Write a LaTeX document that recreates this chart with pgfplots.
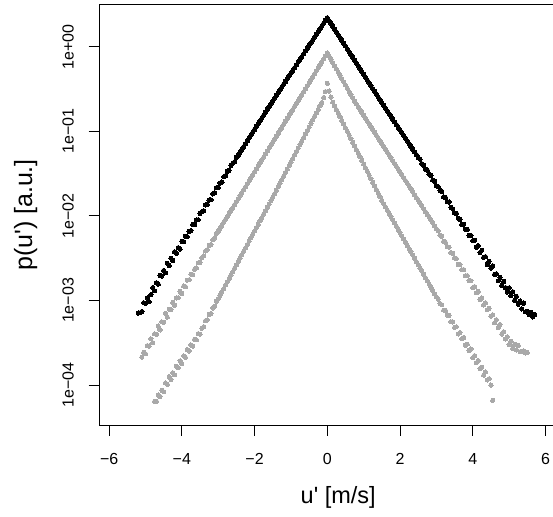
\documentclass[border=0pt]{standalone}
\usepackage{fontspec}
\setmainfont{Liberation Sans}
\usepackage{pgfplots}
\pgfplotsset{compat=1.18}
\definecolor{dgray}{HTML}{A9A9A9}

\begin{document}
\begin{tikzpicture}[x=1pt,y=1pt]
\begin{axis}[
  at={(99.54pt,91pt)}, anchor=south west,
  scale only axis, width=455.5pt, height=420pt,
  xmin=-6.264, xmax=6.264,
  ymode=log, ymin=3.373e-5, ymax=3.112,
  axis line style={line width=1pt},
  tick align=outside, major tick length=11pt,
  tick style={line width=1pt, black},
  tick pos=left,
  xtick={-6,-4,-2,0,2,4,6},
  xticklabels={−6,−4,−2,0,2,4,6},
  ytick={1e-4,1e-3,1e-2,1e-1,1},
  yticklabels={1e−04,1e−03,1e−02,1e−01,1e+00},
  minor tick num=0, yminorticks=false,
  tick label style={font=\fontsize{16}{19}\selectfont},
  xticklabel style={anchor=base},
  xticklabel shift=28.5pt,
  yticklabel style={rotate=90, anchor=base},
  yticklabel shift=15pt,
  xlabel={u\textquotesingle{} [m/s]},
  ylabel={p(u\textquotesingle) [a.u.]},
  every axis x label/.style={at={(axis description cs:0.524,-0.188)}, anchor=base,
    font=\fontsize{23.5}{27}\selectfont},
  every axis y label/.style={at={(axis description cs:-0.148,0.5)}, rotate=90, anchor=base,
    font=\fontsize{25}{29}\selectfont},
]
% signal at the reference probe
\addplot[only marks, mark=*, mark size=2.15pt, color=black, mark options={line width=0pt}] coordinates {
(-5.20,7.10e-4) (-5.15,7.16e-4) (-5.10,7.40e-4) (-5.05,9.40e-4) (-5.00,9.25e-4) (-4.95,1.07e-3) (-4.90,9.64e-4) (-4.85,1.17e-3) (-4.80,1.42e-3) (-4.75,1.30e-3) (-4.70,1.62e-3) (-4.65,1.56e-3) (-4.60,1.98e-3) (-4.55,1.95e-3) (-4.50,2.26e-3) (-4.45,2.13e-3) (-4.40,2.76e-3) (-4.35,2.60e-3) (-4.30,3.16e-3) (-4.25,2.97e-3) (-4.20,3.77e-3) (-4.15,3.63e-3) (-4.10,4.21e-3) (-4.05,4.06e-3) (-4.00,5.02e-3) (-3.95,4.95e-3) (-3.90,5.74e-3) (-3.85,5.66e-3) (-3.80,6.55e-3) (-3.75,6.68e-3) (-3.70,7.93e-3) (-3.65,7.91e-3) (-3.60,8.93e-3) (-3.55,9.02e-3) (-3.50,1.07e-2) (-3.45,1.12e-2) (-3.40,1.15e-2) (-3.35,1.35e-2) (-3.30,1.36e-2) (-3.25,1.54e-2) (-3.20,1.55e-2) (-3.15,1.82e-2) (-3.10,1.88e-2) (-3.05,2.15e-2) (-3.00,2.17e-2) (-2.95,2.45e-2) (-2.90,2.51e-2) (-2.85,2.90e-2) (-2.80,2.99e-2) (-2.75,3.35e-2) (-2.70,3.46e-2) (-2.65,3.96e-2) (-2.60,4.18e-2) (-2.55,4.37e-2) (-2.50,4.94e-2) (-2.45,5.22e-2) (-2.40,5.64e-2) (-2.35,6.10e-2) (-2.30,6.59e-2) (-2.25,7.13e-2) (-2.20,7.69e-2) (-2.15,8.32e-2) (-2.10,8.99e-2) (-2.05,9.73e-2) (-2.00,1.05e-1) (-1.95,1.14e-1) (-1.90,1.23e-1) (-1.85,1.33e-1) (-1.80,1.43e-1) (-1.75,1.55e-1) (-1.70,1.67e-1) (-1.65,1.81e-1) (-1.60,1.95e-1) (-1.55,2.11e-1) (-1.50,2.29e-1) (-1.45,2.47e-1) (-1.40,2.66e-1) (-1.35,2.87e-1) (-1.30,3.09e-1) (-1.25,3.33e-1) (-1.20,3.60e-1) (-1.15,3.88e-1) (-1.10,4.18e-1) (-1.05,4.51e-1) (-1.00,4.86e-1) (-0.95,5.25e-1) (-0.90,5.65e-1) (-0.85,6.10e-1) (-0.80,6.58e-1) (-0.75,7.10e-1) (-0.70,7.64e-1) (-0.65,8.24e-1) (-0.60,8.89e-1) (-0.55,9.59e-1) (-0.50,1.04) (-0.45,1.11) (-0.40,1.20) (-0.35,1.30) (-0.30,1.40) (-0.25,1.51) (-0.20,1.63) (-0.15,1.75) (-0.10,1.89) (-0.05,2.04) (0.00,2.20)
(0.05,2.03) (0.10,1.88) (0.15,1.74) (0.20,1.61) (0.25,1.49) (0.30,1.38) (0.35,1.28) (0.40,1.19) (0.45,1.10) (0.50,1.02) (0.55,9.41e-1) (0.60,8.71e-1) (0.65,8.06e-1) (0.70,7.46e-1) (0.75,6.91e-1) (0.80,6.40e-1) (0.85,5.92e-1) (0.90,5.48e-1) (0.95,5.08e-1) (1.00,4.70e-1) (1.05,4.35e-1) (1.10,4.03e-1) (1.15,3.73e-1) (1.20,3.45e-1) (1.25,3.19e-1) (1.30,2.96e-1) (1.35,2.74e-1) (1.40,2.54e-1) (1.45,2.35e-1) (1.50,2.17e-1) (1.55,2.02e-1) (1.60,1.87e-1) (1.65,1.74e-1) (1.70,1.61e-1) (1.75,1.50e-1) (1.80,1.39e-1) (1.85,1.29e-1) (1.90,1.20e-1) (1.95,1.11e-1) (2.00,1.03e-1) (2.05,9.60e-2) (2.10,8.91e-2) (2.15,8.27e-2) (2.20,7.68e-2) (2.25,7.13e-2) (2.30,6.62e-2) (2.35,6.15e-2) (2.40,5.71e-2) (2.45,5.30e-2) (2.50,4.92e-2) (2.55,4.68e-2) (2.60,4.14e-2) (2.65,3.98e-2) (2.70,3.56e-2) (2.75,3.48e-2) (2.80,3.12e-2) (2.85,3.01e-2) (2.90,2.65e-2) (2.95,2.55e-2) (3.00,2.26e-2) (3.05,2.22e-2) (3.10,2.00e-2) (3.15,1.94e-2) (3.20,1.68e-2) (3.25,1.65e-2) (3.30,1.47e-2) (3.35,1.46e-2) (3.40,1.26e-2) (3.45,1.21e-2) (3.50,1.08e-2) (3.55,1.07e-2) (3.60,9.39e-3) (3.65,9.12e-3) (3.70,7.91e-3) (3.75,7.96e-3) (3.80,6.97e-3) (3.85,6.93e-3) (3.90,5.87e-3) (3.95,5.85e-3) (4.00,5.07e-3) (4.05,5.15e-3) (4.10,4.27e-3) (4.15,4.45e-3) (4.20,3.68e-3) (4.25,3.92e-3) (4.30,3.24e-3) (4.35,3.30e-3) (4.40,2.67e-3) (4.45,2.91e-3) (4.50,2.41e-3) (4.55,2.57e-3) (4.60,2.03e-3) (4.65,2.07e-3) (4.70,1.71e-3) (4.75,1.87e-3) (4.80,1.51e-3) (4.85,1.68e-3) (4.90,1.42e-3) (4.95,1.26e-3) (5.00,1.41e-3) (5.05,1.14e-3) (5.10,1.27e-3) (5.15,1.00e-3) (5.20,1.12e-3) (5.25,9.04e-4) (5.30,9.85e-4) (5.35,7.96e-4) (5.40,9.30e-4) (5.45,7.35e-4) (5.50,7.48e-4) (5.55,6.78e-4) (5.60,7.22e-4) (5.65,6.40e-4) (5.70,6.82e-4)
};
% second probe
\addplot[only marks, mark=*, mark size=2.1pt, color=dgray, mark options={line width=0pt}] coordinates {
(-5.10,2.14e-4) (-5.05,2.43e-4) (-5.00,2.35e-4) (-4.95,2.93e-4) (-4.90,2.89e-4) (-4.85,3.52e-4) (-4.80,3.17e-4) (-4.75,4.04e-4) (-4.70,4.00e-4) (-4.65,4.98e-4) (-4.60,4.49e-4) (-4.55,5.59e-4) (-4.50,5.53e-4) (-4.45,7.04e-4) (-4.40,6.35e-4) (-4.35,7.91e-4) (-4.30,7.82e-4) (-4.25,9.51e-4) (-4.20,8.78e-4) (-4.15,1.07e-3) (-4.10,1.08e-3) (-4.05,1.28e-3) (-4.00,1.21e-3) (-3.95,1.48e-3) (-3.90,1.46e-3) (-3.85,1.74e-3) (-3.80,1.76e-3) (-3.75,2.04e-3) (-3.70,2.02e-3) (-3.65,2.34e-3) (-3.60,2.43e-3) (-3.55,2.79e-3) (-3.50,2.82e-3) (-3.45,3.21e-3) (-3.40,3.36e-3) (-3.35,3.85e-3) (-3.30,3.99e-3) (-3.25,4.48e-3) (-3.20,4.59e-3) (-3.15,5.21e-3) (-3.10,5.46e-3) (-3.05,6.19e-3) (-3.00,6.56e-3) (-2.95,7.11e-3) (-2.90,7.72e-3) (-2.85,8.37e-3) (-2.80,9.07e-3) (-2.75,9.83e-3) (-2.70,1.07e-2) (-2.65,1.16e-2) (-2.60,1.25e-2) (-2.55,1.36e-2) (-2.50,1.47e-2) (-2.45,1.60e-2) (-2.40,1.73e-2) (-2.35,1.88e-2) (-2.30,2.04e-2) (-2.25,2.21e-2) (-2.20,2.40e-2) (-2.15,2.60e-2) (-2.10,2.82e-2) (-2.05,3.05e-2) (-2.00,3.31e-2) (-1.95,3.59e-2) (-1.90,3.89e-2) (-1.85,4.22e-2) (-1.80,4.58e-2) (-1.75,4.96e-2) (-1.70,5.38e-2) (-1.65,5.83e-2) (-1.60,6.33e-2) (-1.55,6.86e-2) (-1.50,7.44e-2) (-1.45,8.07e-2) (-1.40,8.75e-2) (-1.35,9.48e-2) (-1.30,1.03e-1) (-1.25,1.11e-1) (-1.20,1.21e-1) (-1.15,1.31e-1) (-1.10,1.42e-1) (-1.05,1.54e-1) (-1.00,1.67e-1) (-0.95,1.81e-1) (-0.90,1.97e-1) (-0.85,2.13e-1) (-0.80,2.31e-1) (-0.75,2.50e-1) (-0.70,2.72e-1) (-0.65,2.94e-1) (-0.60,3.19e-1) (-0.55,3.46e-1) (-0.50,3.75e-1) (-0.45,4.07e-1) (-0.40,4.41e-1) (-0.35,4.79e-1) (-0.30,5.19e-1) (-0.25,5.63e-1) (-0.20,6.10e-1) (-0.15,6.61e-1) (-0.10,7.17e-1) (-0.05,7.78e-1) (0.00,8.43e-1)
(0.05,7.73e-1) (0.10,7.08e-1) (0.15,6.49e-1) (0.20,5.94e-1) (0.25,5.45e-1) (0.30,4.99e-1) (0.35,4.57e-1) (0.40,4.19e-1) (0.45,3.84e-1) (0.50,3.52e-1) (0.55,3.22e-1) (0.60,2.95e-1) (0.65,2.70e-1) (0.70,2.48e-1) (0.75,2.27e-1) (0.80,2.10e-1) (0.85,1.95e-1) (0.90,1.80e-1) (0.95,1.67e-1) (1.00,1.54e-1) (1.05,1.43e-1) (1.10,1.32e-1) (1.15,1.22e-1) (1.20,1.13e-1) (1.25,1.05e-1) (1.30,9.72e-2) (1.35,8.99e-2) (1.40,8.33e-2) (1.45,7.71e-2) (1.50,7.14e-2) (1.55,6.61e-2) (1.60,6.12e-2) (1.65,5.66e-2) (1.70,5.24e-2) (1.75,4.85e-2) (1.80,4.49e-2) (1.85,4.16e-2) (1.90,3.85e-2) (1.95,3.56e-2) (2.00,3.30e-2) (2.05,3.05e-2) (2.10,2.83e-2) (2.15,2.62e-2) (2.20,2.42e-2) (2.25,2.24e-2) (2.30,2.08e-2) (2.35,1.92e-2) (2.40,1.78e-2) (2.45,1.65e-2) (2.50,1.53e-2) (2.55,1.41e-2) (2.60,1.31e-2) (2.65,1.21e-2) (2.70,1.12e-2) (2.75,1.04e-2) (2.80,9.61e-3) (2.85,8.89e-3) (2.90,8.23e-3) (2.95,7.62e-3) (3.00,7.06e-3) (3.05,6.68e-3) (3.10,5.91e-3) (3.15,5.73e-3) (3.20,5.01e-3) (3.25,4.85e-3) (3.30,4.34e-3) (3.35,4.26e-3) (3.40,3.68e-3) (3.45,3.61e-3) (3.50,3.19e-3) (3.55,3.13e-3) (3.60,2.67e-3) (3.65,2.65e-3) (3.70,2.31e-3) (3.75,2.32e-3) (3.80,1.96e-3) (3.85,1.97e-3) (3.90,1.72e-3) (3.95,1.71e-3) (4.00,1.41e-3) (4.05,1.46e-3) (4.10,1.23e-3) (4.15,1.28e-3) (4.20,1.03e-3) (4.25,1.07e-3) (4.30,8.86e-4) (4.35,9.42e-4) (4.40,7.77e-4) (4.45,8.07e-4) (4.50,6.51e-4) (4.55,6.76e-4) (4.60,5.45e-4) (4.65,5.93e-4) (4.70,4.78e-4) (4.75,5.20e-4) (4.80,4.00e-4) (4.85,4.26e-4) (4.90,3.51e-4) (4.95,3.73e-4) (5.00,3.01e-4) (5.05,3.31e-4) (5.10,2.72e-4) (5.15,3.02e-4) (5.20,2.60e-4) (5.25,2.95e-4) (5.30,2.48e-4) (5.35,2.51e-4) (5.40,2.54e-4) (5.45,2.40e-4) (5.50,2.43e-4)
};
% third probe
\addplot[only marks, mark=*, mark size=2.1pt, color=dgray, mark options={line width=0pt}] coordinates {
(-4.75,6.40e-5) (-4.70,6.44e-5) (-4.65,7.62e-5) (-4.60,7.33e-5) (-4.55,8.67e-5) (-4.50,8.34e-5) (-4.45,1.06e-4) (-4.40,1.02e-4) (-4.35,1.26e-4) (-4.30,1.16e-4) (-4.25,1.40e-4) (-4.20,1.32e-4) (-4.15,1.67e-4) (-4.10,1.60e-4) (-4.05,1.94e-4) (-4.00,1.78e-4) (-3.95,2.21e-4) (-3.90,2.12e-4) (-3.85,2.63e-4) (-3.80,2.53e-4) (-3.75,2.99e-4) (-3.70,2.88e-4) (-3.65,3.48e-4) (-3.60,3.43e-4) (-3.55,4.06e-4) (-3.50,3.99e-4) (-3.45,4.69e-4) (-3.40,4.91e-4) (-3.35,5.77e-4) (-3.30,5.90e-4) (-3.25,6.85e-4) (-3.20,7.01e-4) (-3.15,8.15e-4) (-3.10,8.53e-4) (-3.05,9.79e-4) (-3.00,1.05e-3) (-2.95,1.15e-3) (-2.90,1.26e-3) (-2.85,1.38e-3) (-2.80,1.52e-3) (-2.75,1.66e-3) (-2.70,1.82e-3) (-2.65,2.00e-3) (-2.60,2.19e-3) (-2.55,2.40e-3) (-2.50,2.64e-3) (-2.45,2.89e-3) (-2.40,3.17e-3) (-2.35,3.48e-3) (-2.30,3.81e-3) (-2.25,4.18e-3) (-2.20,4.58e-3) (-2.15,5.02e-3) (-2.10,5.51e-3) (-2.05,6.04e-3) (-2.00,6.62e-3) (-1.95,7.26e-3) (-1.90,7.96e-3) (-1.85,8.73e-3) (-1.80,9.57e-3) (-1.75,1.05e-2) (-1.70,1.15e-2) (-1.65,1.26e-2) (-1.60,1.38e-2) (-1.55,1.52e-2) (-1.50,1.66e-2) (-1.45,1.83e-2) (-1.40,2.01e-2) (-1.35,2.22e-2) (-1.30,2.44e-2) (-1.25,2.68e-2) (-1.20,2.95e-2) (-1.15,3.25e-2) (-1.10,3.57e-2) (-1.05,3.93e-2) (-1.00,4.33e-2) (-0.95,4.76e-2) (-0.90,5.24e-2) (-0.85,5.76e-2) (-0.80,6.34e-2) (-0.75,6.97e-2) (-0.70,7.67e-2) (-0.65,8.44e-2) (-0.60,9.29e-2) (-0.55,1.02e-1) (-0.50,1.12e-1) (-0.45,1.24e-1) (-0.40,1.36e-1) (-0.35,1.50e-1) (-0.30,1.65e-1) (-0.25,1.81e-1) (-0.20,2.00e-1) (-0.15,2.19e-1) (-0.10,2.51e-1) (-0.05,2.95e-1) (0.00,3.69e-1)
(0.05,2.99e-1) (0.10,2.54e-1) (0.15,2.21e-1) (0.20,2.00e-1) (0.25,1.81e-1) (0.30,1.64e-1) (0.35,1.48e-1) (0.40,1.34e-1) (0.45,1.22e-1) (0.50,1.10e-1) (0.55,9.98e-2) (0.60,9.04e-2) (0.65,8.18e-2) (0.70,7.41e-2) (0.75,6.71e-2) (0.80,6.08e-2) (0.85,5.51e-2) (0.90,4.99e-2) (0.95,4.52e-2) (1.00,4.09e-2) (1.05,3.71e-2) (1.10,3.36e-2) (1.15,3.04e-2) (1.20,2.75e-2) (1.25,2.49e-2) (1.30,2.26e-2) (1.35,2.05e-2) (1.40,1.85e-2) (1.45,1.68e-2) (1.50,1.52e-2) (1.55,1.39e-2) (1.60,1.28e-2) (1.65,1.17e-2) (1.70,1.07e-2) (1.75,9.82e-3) (1.80,8.99e-3) (1.85,8.24e-3) (1.90,7.55e-3) (1.95,6.92e-3) (2.00,6.34e-3) (2.05,5.81e-3) (2.10,5.32e-3) (2.15,4.88e-3) (2.20,4.47e-3) (2.25,4.09e-3) (2.30,3.75e-3) (2.35,3.44e-3) (2.40,3.15e-3) (2.45,2.88e-3) (2.50,2.64e-3) (2.55,2.42e-3) (2.60,2.22e-3) (2.65,2.03e-3) (2.70,1.86e-3) (2.75,1.71e-3) (2.80,1.56e-3) (2.85,1.43e-3) (2.90,1.31e-3) (2.95,1.20e-3) (3.00,1.10e-3) (3.05,1.04e-3) (3.10,9.20e-4) (3.15,8.91e-4) (3.20,7.69e-4) (3.25,7.62e-4) (3.30,6.73e-4) (3.35,6.67e-4) (3.40,5.62e-4) (3.45,5.57e-4) (3.50,4.81e-4) (3.55,4.88e-4) (3.60,4.02e-4) (3.65,4.17e-4) (3.70,3.52e-4) (3.75,3.65e-4) (3.80,2.94e-4) (3.85,3.05e-4) (3.90,2.57e-4) (3.95,2.67e-4) (4.00,2.10e-4) (4.05,2.23e-4) (4.10,1.84e-4) (4.15,1.95e-4) (4.20,1.57e-4) (4.25,1.63e-4) (4.30,1.31e-4) (4.35,1.43e-4) (4.40,1.15e-4) (4.45,1.19e-4) (4.50,1.00e-4) (4.55,6.61e-5)
};
\end{axis}
\pgfresetboundingbox
\useasboundingbox (0,0) rectangle (553,516);
\end{tikzpicture}
\end{document}
